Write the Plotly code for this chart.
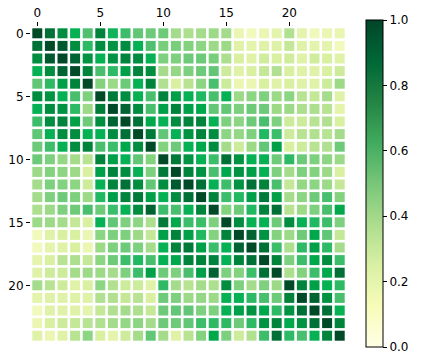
import numpy as np
import plotly.graph_objects as go

# correlation-like matrix, one list per row
row_00 = [1.00, 0.85, 0.77, 0.67, 0.55, 0.80, 0.65, 0.58, 0.52, 0.50, 0.50, 0.38, 0.36, 0.38, 0.40, 0.38, 0.17, 0.13, 0.17, 0.20, 0.35, 0.20, 0.14, 0.17, 0.18]
row_01 = [0.85, 1.00, 0.90, 0.77, 0.60, 0.77, 0.75, 0.77, 0.67, 0.55, 0.48, 0.48, 0.46, 0.44, 0.40, 0.40, 0.22, 0.20, 0.22, 0.22, 0.30, 0.22, 0.20, 0.20, 0.13]
row_02 = [0.77, 0.90, 1.00, 0.88, 0.75, 0.67, 0.75, 0.80, 0.77, 0.67, 0.47, 0.47, 0.50, 0.50, 0.48, 0.36, 0.25, 0.22, 0.27, 0.25, 0.27, 0.22, 0.27, 0.25, 0.22]
row_03 = [0.67, 0.77, 0.88, 1.00, 0.80, 0.56, 0.60, 0.72, 0.80, 0.77, 0.38, 0.42, 0.47, 0.50, 0.52, 0.28, 0.22, 0.25, 0.30, 0.35, 0.25, 0.22, 0.22, 0.25, 0.28]
row_04 = [0.52, 0.60, 0.72, 0.80, 1.00, 0.46, 0.40, 0.50, 0.67, 0.80, 0.35, 0.25, 0.33, 0.44, 0.56, 0.28, 0.17, 0.17, 0.25, 0.22, 0.25, 0.22, 0.22, 0.28, 0.40]
row_05 = [0.77, 0.75, 0.67, 0.56, 0.47, 1.00, 0.83, 0.77, 0.67, 0.56, 0.80, 0.72, 0.67, 0.62, 0.56, 0.67, 0.40, 0.44, 0.47, 0.40, 0.44, 0.33, 0.30, 0.38, 0.22]
row_06 = [0.67, 0.77, 0.75, 0.60, 0.40, 0.82, 1.00, 0.88, 0.77, 0.56, 0.72, 0.80, 0.72, 0.70, 0.52, 0.52, 0.47, 0.50, 0.50, 0.40, 0.40, 0.36, 0.36, 0.33, 0.20]
row_07 = [0.58, 0.77, 0.80, 0.72, 0.50, 0.77, 0.88, 1.00, 0.85, 0.70, 0.67, 0.77, 0.80, 0.80, 0.67, 0.47, 0.44, 0.50, 0.56, 0.47, 0.28, 0.28, 0.33, 0.35, 0.25]
row_08 = [0.52, 0.67, 0.77, 0.77, 0.67, 0.67, 0.77, 0.85, 1.00, 0.83, 0.52, 0.67, 0.75, 0.80, 0.77, 0.44, 0.42, 0.47, 0.62, 0.58, 0.28, 0.33, 0.35, 0.33, 0.38]
row_09 = [0.50, 0.58, 0.67, 0.77, 0.80, 0.56, 0.58, 0.70, 0.77, 1.00, 0.46, 0.50, 0.67, 0.70, 0.77, 0.38, 0.28, 0.40, 0.52, 0.72, 0.25, 0.28, 0.33, 0.35, 0.50]
row_10 = [0.50, 0.47, 0.42, 0.38, 0.33, 0.80, 0.72, 0.67, 0.52, 0.46, 1.00, 0.83, 0.75, 0.67, 0.58, 0.85, 0.75, 0.67, 0.67, 0.50, 0.60, 0.50, 0.47, 0.44, 0.40]
row_11 = [0.40, 0.46, 0.44, 0.40, 0.25, 0.72, 0.80, 0.77, 0.67, 0.47, 0.83, 1.00, 0.80, 0.75, 0.56, 0.70, 0.75, 0.72, 0.67, 0.47, 0.38, 0.47, 0.46, 0.40, 0.25]
row_12 = [0.38, 0.47, 0.46, 0.44, 0.28, 0.67, 0.80, 0.85, 0.77, 0.52, 0.77, 0.90, 1.00, 0.85, 0.67, 0.58, 0.75, 0.85, 0.80, 0.56, 0.30, 0.42, 0.44, 0.40, 0.30]
row_13 = [0.38, 0.47, 0.50, 0.47, 0.40, 0.62, 0.72, 0.80, 0.83, 0.72, 0.67, 0.77, 0.85, 1.00, 0.80, 0.58, 0.62, 0.72, 0.83, 0.72, 0.38, 0.44, 0.50, 0.56, 0.46]
row_14 = [0.36, 0.40, 0.47, 0.50, 0.56, 0.50, 0.58, 0.67, 0.77, 0.88, 0.58, 0.56, 0.67, 0.80, 1.00, 0.46, 0.50, 0.62, 0.80, 0.85, 0.33, 0.40, 0.47, 0.56, 0.70]
row_15 = [0.40, 0.40, 0.38, 0.30, 0.25, 0.67, 0.52, 0.47, 0.44, 0.36, 0.83, 0.70, 0.58, 0.58, 0.47, 1.00, 0.77, 0.67, 0.67, 0.50, 0.77, 0.67, 0.62, 0.58, 0.47]
row_16 = [0.13, 0.22, 0.25, 0.25, 0.17, 0.44, 0.47, 0.47, 0.40, 0.30, 0.72, 0.80, 0.72, 0.62, 0.46, 0.80, 1.00, 0.88, 0.75, 0.46, 0.40, 0.50, 0.70, 0.52, 0.30]
row_17 = [0.13, 0.20, 0.22, 0.25, 0.17, 0.40, 0.47, 0.50, 0.47, 0.38, 0.67, 0.80, 0.83, 0.72, 0.58, 0.67, 0.88, 1.00, 0.85, 0.58, 0.36, 0.60, 0.72, 0.60, 0.38]
row_18 = [0.20, 0.25, 0.33, 0.36, 0.30, 0.44, 0.50, 0.58, 0.62, 0.56, 0.67, 0.70, 0.80, 0.80, 0.80, 0.67, 0.80, 0.85, 1.00, 0.80, 0.47, 0.58, 0.70, 0.77, 0.58]
row_19 = [0.22, 0.28, 0.28, 0.38, 0.40, 0.40, 0.38, 0.47, 0.58, 0.72, 0.50, 0.47, 0.56, 0.72, 0.88, 0.47, 0.46, 0.58, 0.85, 1.00, 0.36, 0.46, 0.58, 0.70, 0.85]
row_20 = [0.38, 0.33, 0.28, 0.22, 0.25, 0.44, 0.35, 0.28, 0.28, 0.22, 0.60, 0.38, 0.33, 0.38, 0.36, 0.77, 0.47, 0.38, 0.47, 0.40, 1.00, 0.80, 0.72, 0.67, 0.60]
row_21 = [0.20, 0.22, 0.22, 0.22, 0.22, 0.35, 0.35, 0.30, 0.33, 0.25, 0.50, 0.47, 0.40, 0.42, 0.40, 0.67, 0.67, 0.60, 0.56, 0.50, 0.80, 1.00, 0.88, 0.75, 0.56]
row_22 = [0.13, 0.22, 0.22, 0.22, 0.20, 0.30, 0.35, 0.38, 0.36, 0.30, 0.50, 0.52, 0.52, 0.47, 0.47, 0.67, 0.72, 0.75, 0.70, 0.60, 0.75, 0.85, 1.00, 0.85, 0.67]
row_23 = [0.17, 0.25, 0.28, 0.30, 0.33, 0.35, 0.38, 0.42, 0.44, 0.38, 0.50, 0.50, 0.52, 0.58, 0.60, 0.60, 0.50, 0.60, 0.75, 0.80, 0.70, 0.75, 0.85, 1.00, 0.80]
row_24 = [0.22, 0.17, 0.22, 0.33, 0.44, 0.25, 0.20, 0.28, 0.38, 0.52, 0.38, 0.22, 0.33, 0.46, 0.70, 0.47, 0.28, 0.35, 0.58, 0.85, 0.60, 0.56, 0.67, 0.80, 1.00]

rows = [row_00, row_01, row_02, row_03, row_04, row_05, row_06, row_07, row_08, row_09,
        row_10, row_11, row_12, row_13, row_14, row_15, row_16, row_17, row_18, row_19,
        row_20, row_21, row_22, row_23, row_24]

axis_ticks = [0, 5, 10, 15, 20]
cbar_ticks = [0.0, 0.2, 0.4, 0.6, 0.8, 1.0]

# the squares look more vivid than the colorbar in the original
cell_scale = [
    [0.00, "#ffffe0"], [0.15, "#f0f8b8"], [0.25, "#d8f0a0"], [0.35, "#b0e090"],
    [0.45, "#88d480"], [0.55, "#50c070"], [0.62, "#20b860"], [0.68, "#00b050"],
    [0.76, "#009040"], [0.83, "#007a38"], [0.90, "#005a30"], [1.00, "#004a28"],
]

mat = np.array(rows)
n = mat.shape[0]
yy, xx = np.mgrid[0:n, 0:n]

fig = go.Figure()
fig.add_trace(go.Scatter(
    x=xx.ravel(), y=yy.ravel(), mode="markers",
    marker=dict(symbol="square", size=10, color=mat.ravel(),
                colorscale=cell_scale, cmin=0, cmax=1, line=dict(width=0),
                showscale=False),
    hoverinfo="skip", showlegend=False,
))
# colorbar only
fig.add_trace(go.Scatter(
    x=[None], y=[None], mode="markers",
    marker=dict(
        color=[0], colorscale="YlGn", cmin=0, cmax=1, showscale=True,
        colorbar=dict(
            x=1.032, xanchor="left", y=0.503, yanchor="middle",
            thickness=17, len=327, lenmode="pixels", xpad=10, ypad=0,
            outlinewidth=1, outlinecolor="black",
            tickvals=cbar_ticks, tickformat=".1f",
            ticks="outside", ticklen=4, tickcolor="black",
            tickfont=dict(size=12, color="black"),
        ),
    ),
    hoverinfo="skip", showlegend=False,
))

fig.update_layout(
    width=423, height=363,
    margin=dict(l=31, r=77, t=27, b=21, autoexpand=False),
    plot_bgcolor="white", paper_bgcolor="white",
    font=dict(family="DejaVu Sans", size=12, color="black"),
)
fig.update_xaxes(side="top", range=[-0.5, n - 0.5], tickvals=axis_ticks,
                 ticks="outside", ticklen=4, tickcolor="black",
                 showgrid=False, zeroline=False, showline=False, automargin=False)
fig.update_yaxes(range=[n - 0.5, -0.5], tickvals=axis_ticks,
                 ticks="outside", ticklen=4, tickcolor="black",
                 showgrid=False, zeroline=False, showline=False, automargin=False)

# drop the browser's default 8px body margin so the figure sits at 0,0
fig.write_html("out.html", config={"displayModeBar": False},
               post_script="document.body.style.margin='0';")
